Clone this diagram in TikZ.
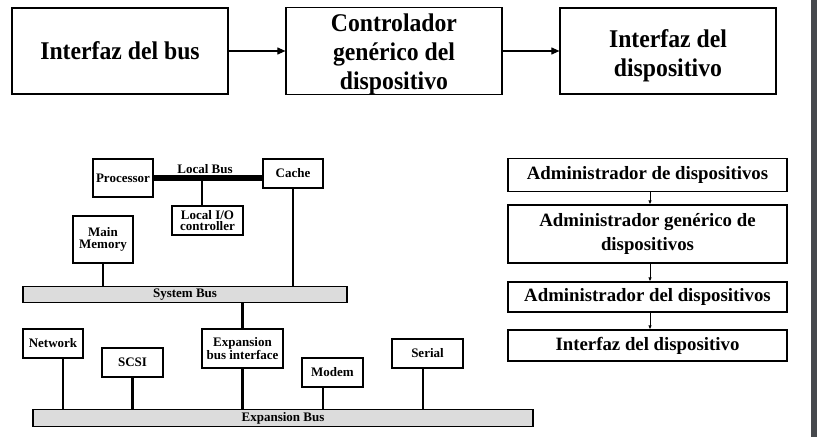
\documentclass[tikz,border=0pt]{standalone}
\usepackage{fontspec}
\setmainfont{Liberation Serif}
\newfontfamily\condserif{Liberation Serif}[FakeStretch=0.93]
\usepackage{tikz}
\usetikzlibrary{arrows.meta}
\definecolor{BusGray}{HTML}{DCDCDC}
\definecolor{BarGray}{HTML}{46494D}

\begin{document}
\begin{tikzpicture}[x=1pt,y=-1pt,
  every node/.style={inner sep=0pt, align=center, font=\bfseries},
  bigbox/.style={draw, line width=1.2pt, minimum width=216pt, minimum height=86pt,
    font=\condserif\bfseries\fontsize{25.5}{29}\selectfont},
  stackbox/.style={draw, line width=1.2pt, minimum width=279pt,
    font=\bfseries\fontsize{18.8}{24}\selectfont},
  unit/.style={draw, line width=1.5pt, fill=white,
    font=\bfseries\fontsize{13}{11.5}\selectfont},
  busbar/.style={draw, line width=1.5pt, fill=BusGray,
    font=\bfseries\fontsize{13}{11.5}\selectfont},
  link/.style={line width=2.8pt}]
  \useasboundingbox (0,0) rectangle (817,437);
  \fill[BarGray] (811,0) rectangle (817,437);
  % top row
  \node[bigbox] (busif) at (120,51) {Interfaz del bus};
  \node[bigbox, text height=81.6pt] (genctrl) at (394,51) {Controlador\\genérico del\\dispositivo};
  \node[bigbox, text height=55.6pt] (devif) at (668,51) {Interfaz del\\dispositivo};
  \foreach \a/\b in {busif/genctrl, genctrl/devif}
    \draw[line width=1.1pt, -{Triangle[length=8pt,width=7pt]}] (\a) -- (\b);
  % layers on the right
  \node[stackbox, minimum height=33pt] (devmgr) at (647.5,175) {Administrador de dispositivos};
  \node[stackbox, minimum height=58pt] (genmgr) at (647.5,234) {Administrador genérico de\\dispositivos};
  \node[stackbox, minimum height=30pt] (drvmgr) at (647.5,297) {Administrador del dispositivos};
  \node[stackbox, minimum height=31pt] (devint) at (647.5,345.5) {Interfaz del dispositivo};
  \foreach \a/\b in {devmgr/genmgr, genmgr/drvmgr, drvmgr/devint}
    \draw[line width=0.8pt, -{Latex[length=4pt,width=3.5pt]}] ([xshift=2.5pt]\a.south) -- ([xshift=2.5pt]\b.north);
  % buses
  \node[unit, minimum width=60pt, minimum height=38pt] (proc) at (123,178) {Processor};
  \node[unit, minimum width=60pt, minimum height=29pt] (cache) at (293,173.5) {Cache};
  \node[unit, minimum width=71pt, minimum height=29pt] (lio) at (207.5,220.5) {Local I/O\\controller};
  \node[unit, minimum width=60pt, minimum height=47pt] (mem) at (103,239.5) {Main\\Memory};
  \node[busbar, minimum width=324pt, minimum height=16pt] (sysbus) at (185,294.5) {System Bus};
  \node[unit, minimum width=60pt, minimum height=29pt] (net) at (53,343.5) {Network};
  \node[unit, minimum width=61pt, minimum height=29pt] (scsi) at (132.5,362.5) {SCSI};
  \node[unit, minimum width=81pt, minimum height=39pt] (ebi) at (242.5,348.5) {Expansion\\bus interface};
  \node[unit, minimum width=61pt, minimum height=29pt] (modem) at (332.5,372.5) {Modem};
  \node[unit, minimum width=71pt, minimum height=29pt] (serial) at (427.5,353.5) {Serial};
  \node[busbar, minimum width=500pt, minimum height=17pt] (expbus) at (283,418) {Expansion Bus};
  \coordinate (lbus) at (202,178);
  \draw[line width=5.5pt] (proc.east) -- (proc.east -| cache.west);
  \node[font=\bfseries\fontsize{13}{11.5}\selectfont] (lbuslabel) at (205,169) {Local Bus};
  \draw[link] (lbus) -- (lbus |- lio.north);
  \draw[link] (cache.south) -- (cache.south |- sysbus.north);
  \draw[link] (mem.south) -- (mem.south |- sysbus.north);
  \draw[link] (ebi.north) -- (ebi.north |- sysbus.south);
  \foreach \dev/\off in {net/10, scsi/0, ebi/0, modem/-9.5, serial/-4.5}
    \draw[link] ([xshift=\off pt]\dev.south) -- ([xshift=\off pt]\dev.south |- expbus.north);
\end{tikzpicture}
\end{document}
